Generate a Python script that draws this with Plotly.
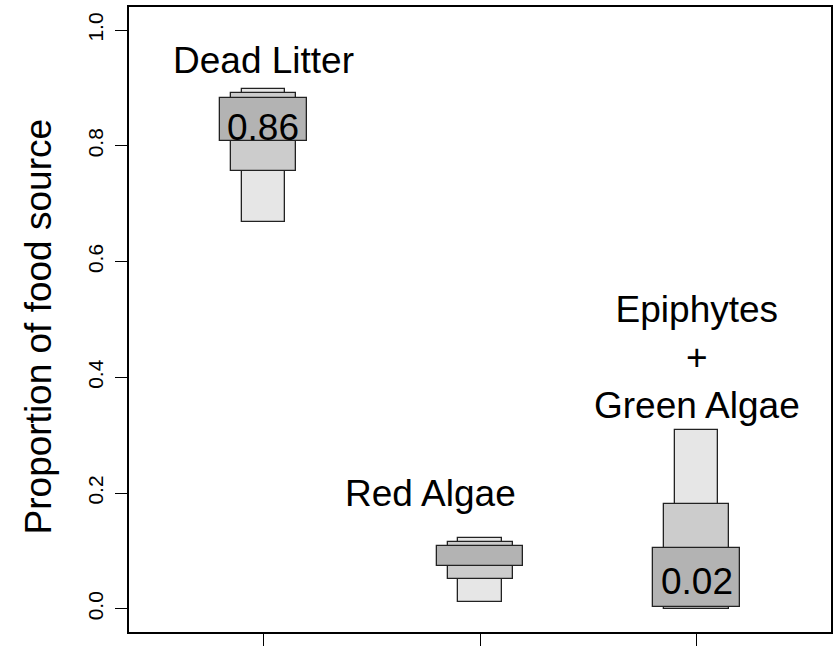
import plotly.graph_objects as go

# ---- data ----
positions = [1, 2, 3]
source_labels = ["Dead Litter", "Red Algae", "Epiphytes<br>+<br>Green Algae"]
label_x = [1.0, 1.77, 3.0]
label_y = [0.947, 0.199, 0.434]

lo95 = [0.668, 0.0125, 0.0]
hi95 = [0.898, 0.122, 0.309]
lo75 = [0.756, 0.0515, 0.0]
hi75 = [0.892, 0.1155, 0.181]
lo50 = [0.808, 0.0737, 0.003]
hi50 = [0.883, 0.109, 0.106]

mode_text = ["0.86", "", "0.02"]
mode_y = [0.832, 0.0, 0.048]

y_ticks = [0.0, 0.2, 0.4, 0.6, 0.8, 1.0]
y_tick_text = ["0.0", "0.2", "0.4", "0.6", "0.8", "1.0"]

FONT = "Liberation Sans, Arial, sans-serif"

fig = go.Figure()

def add_band(lo, hi, width, color):
    fig.add_trace(go.Bar(
        x=positions,
        y=[h - l for l, h in zip(lo, hi)],
        base=lo,
        width=width,
        marker=dict(color=color, line=dict(color="#222222", width=1.3)),
        hoverinfo="skip",
        showlegend=False,
    ))

add_band(lo95, hi95, 0.2, "#e6e6e6")
add_band(lo75, hi75, 0.3, "#cccccc")
add_band(lo50, hi50, 0.4, "#b3b3b3")

# mode labels
for xp, yp, t in zip(positions, mode_y, mode_text):
    if t:
        fig.add_annotation(x=xp, y=yp, text=t, showarrow=False,
                           xref="x", yref="y", xanchor="center", yanchor="middle",
                           font=dict(family=FONT, size=37, color="black"))

# source labels
for xp, yp, t in zip(label_x, label_y, source_labels):
    fig.add_annotation(x=xp, y=yp, text=t, showarrow=False,
                       xref="x", yref="y", xanchor="center", yanchor="middle",
                       font=dict(family=FONT, size=37, color="black"))

# y-axis title
fig.add_annotation(x=-0.129, y=0.488, xref="paper", yref="paper",
                   text="Proportion of food source", textangle=-90,
                   showarrow=False, xanchor="center", yanchor="middle",
                   font=dict(family=FONT, size=37, color="black"))

fig.update_layout(
    width=837, height=648,
    margin=dict(l=129, r=4, t=7, b=10),
    paper_bgcolor="white", plot_bgcolor="white",
    barmode="overlay",
    bargap=0,
    font=dict(family=FONT, color="black"),
)
fig.update_xaxes(
    range=[0.38, 3.62], tickvals=positions, ticktext=["", "", ""],
    ticks="outside", ticklen=12, tickwidth=1.2, tickcolor="black",
    showline=True, linecolor="black", linewidth=1.5, mirror=True,
    showgrid=False, zeroline=False, fixedrange=True,
)
fig.update_yaxes(
    range=[-0.04, 1.04], tickvals=y_ticks, ticktext=y_tick_text,
    tickangle=-90, tickfont=dict(family=FONT, size=21, color="black"),
    ticks="outside", ticklen=12, tickwidth=1.2, tickcolor="black",
    ticklabelstandoff=4,
    showline=True, linecolor="black", linewidth=1.5, mirror=True,
    showgrid=False, zeroline=False, fixedrange=True,
)

fig.write_html("out.html")
